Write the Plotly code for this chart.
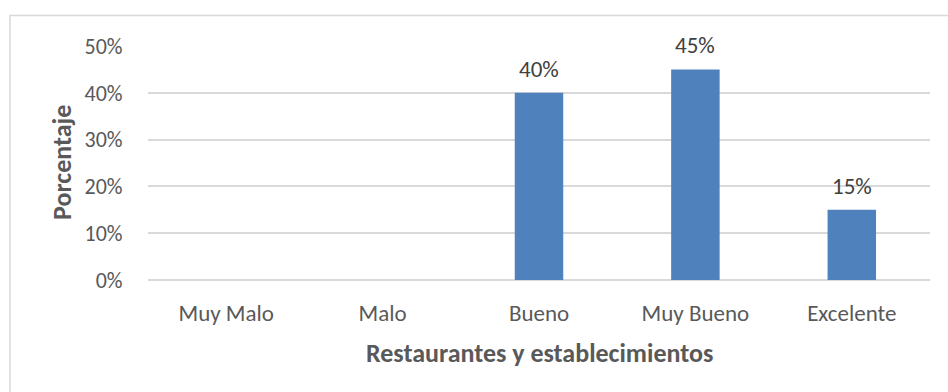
import plotly.graph_objects as go

# Survey ratings for restaurants and establishments
categorias = ["Muy Malo", "Malo", "Bueno", "Muy Bueno", "Excelente"]
porcentajes = [0.0, 0.0, 0.40, 0.45, 0.15]
y_ticks = [0.0, 0.1, 0.2, 0.3, 0.4, 0.5]

FONT = "Carlito, Calibri, Lato, sans-serif"
GRID = "#d9d9d9"
BAR = "#4f81bd"

W, H = 948, 392
L, R, T, B = 148, 18, 46, 112
pw, ph = W - L - R, H - T - B

fig = go.Figure()
fig.add_trace(go.Bar(
    x=categorias,
    y=porcentajes,
    marker=dict(color=BAR, line=dict(width=0)),
    width=0.31,
    hoverinfo="x+y",
))

# value labels above the non-zero bars
for c, v in zip(categorias, porcentajes):
    if v > 0:
        fig.add_annotation(
            x=c, y=v, xref="x", yref="y",
            text=f"{v:.0%}", showarrow=False,
            yanchor="middle", yshift=24,
            font=dict(family=FONT, size=23, color="#404040"),
        )

# axis titles
fig.add_annotation(
    x=(62 - L) / pw, y=0.5, xref="paper", yref="paper",
    text="<b>Porcentaje</b>", textangle=-90, showarrow=False,
    xanchor="center", yanchor="middle",
    font=dict(family=FONT, size=26, color="#595959"),
)
fig.add_annotation(
    x=0.5, y=-(353 - (T + ph)) / ph, xref="paper", yref="paper",
    text="<b>Restaurantes y establecimientos</b>", showarrow=False,
    xanchor="center", yanchor="middle",
    font=dict(family=FONT, size=26, color="#595959"),
)

# chart-area frame
fig.add_shape(
    type="rect", xref="paper", yref="paper",
    x0=(10 - L) / pw, x1=(W + 3 - L) / pw,
    y0=-(H + 3 - T - ph) / ph, y1=1 + (T - 15.5) / ph,
    line=dict(color=GRID, width=1.5), fillcolor="rgba(0,0,0,0)",
    layer="below",
)

fig.update_layout(
    width=W, height=H,
    margin=dict(l=L, r=R, t=T, b=B, pad=0),
    paper_bgcolor="white", plot_bgcolor="white",
    showlegend=False,
    font=dict(family=FONT, size=22, color="#595959"),
    xaxis=dict(
        showgrid=False, showline=False, zeroline=False,
        ticks="outside", ticklen=12, tickcolor="rgba(0,0,0,0)",
        tickfont=dict(family=FONT, size=23, color="#595959"),
        fixedrange=True,
    ),
    yaxis=dict(
        range=[0, 0.5], tickvals=y_ticks, tickformat=".0%",
        showgrid=True, gridcolor=GRID, gridwidth=1.5,
        zeroline=True, zerolinecolor=GRID, zerolinewidth=1.5,
        showline=False,
        ticks="outside", ticklen=20, tickcolor="rgba(0,0,0,0)",
        tickfont=dict(family=FONT, size=22, color="#595959"),
        fixedrange=True,
    ),
)

fig.write_html("out.html")
